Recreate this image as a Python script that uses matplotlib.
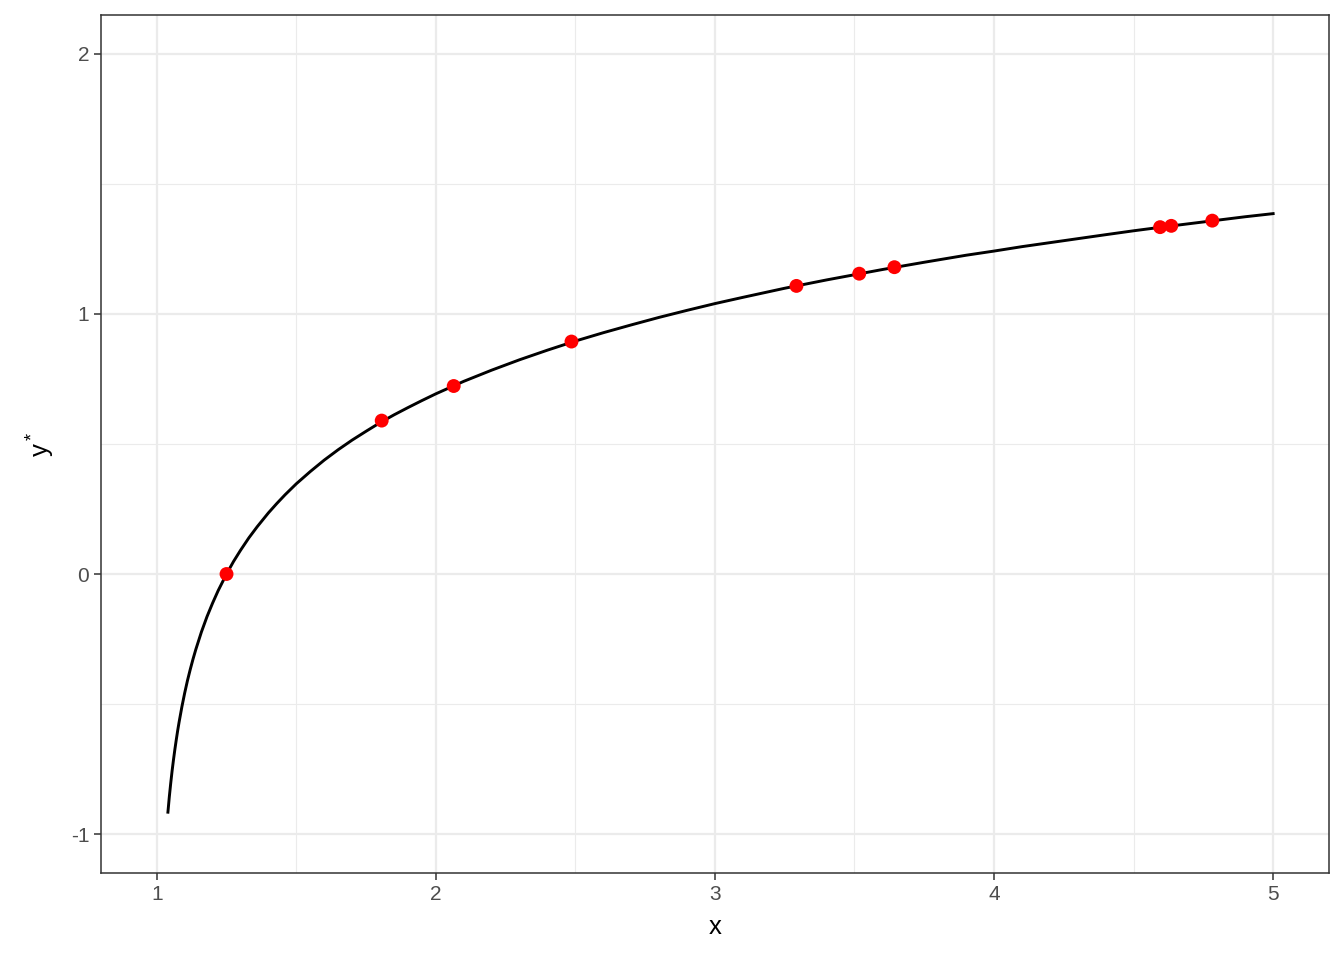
import matplotlib
matplotlib.use("Agg")
import matplotlib.pyplot as plt

# curve values
curve_x = [1.04, 1.045, 1.05, 1.055, 1.06, 1.065, 1.07, 1.075, 1.08, 1.09,
           1.10, 1.11, 1.12, 1.13, 1.14, 1.16, 1.18, 1.20, 1.22, 1.25, 1.275,
           1.30, 1.33, 1.36, 1.40, 1.43, 1.46, 1.50, 1.55, 1.60, 1.65, 1.70,
           1.75, 1.80, 1.85, 1.90, 1.95, 2.00, 2.10, 2.20, 2.30, 2.40, 2.50,
           2.60, 2.70, 2.80, 2.90, 3.00, 3.10, 3.25, 3.40, 3.50, 3.60, 3.75,
           3.90, 4.00, 4.10, 4.25, 4.40, 4.50, 4.60, 4.75, 4.90, 5.00]
curve_y = [-0.916, -0.857, -0.805, -0.757, -0.714, -0.674, -0.637, -0.602,
           -0.570, -0.511, -0.458, -0.410, -0.367, -0.327, -0.290, -0.223,
           -0.164, -0.112, -0.064, 0.000, 0.048, 0.091, 0.139, 0.182, 0.235,
           0.271, 0.305, 0.347, 0.394, 0.438, 0.478, 0.515, 0.549, 0.582,
           0.612, 0.640, 0.667, 0.693, 0.741, 0.784, 0.824, 0.861, 0.896,
           0.928, 0.958, 0.987, 1.014, 1.040, 1.064, 1.099, 1.131, 1.151,
           1.171, 1.199, 1.226, 1.242, 1.259, 1.282, 1.305, 1.320, 1.334,
           1.354, 1.374, 1.386]

# red points
pts_x = [1.25, 1.806, 2.064, 2.486, 3.292, 3.517, 3.643, 4.595, 4.635, 4.782]
pts_y = [0.000, 0.590, 0.723, 0.894, 1.108, 1.155, 1.180, 1.334, 1.339, 1.359]

x_ticks = [1, 2, 3, 4, 5]
y_ticks = [-1, 0, 1, 2]

plt.rcParams['font.family'] = ['Liberation Sans', 'DejaVu Sans']
plt.rcParams['mathtext.fontset'] = 'custom'
plt.rcParams['mathtext.rm'] = 'Liberation Sans'
plt.rcParams['axes.unicode_minus'] = False

fig = plt.figure(figsize=(13.44, 9.6), dpi=100)
ax = fig.add_axes([0.0751, 0.0906, 0.9137, 0.8938])

for v in [1.5, 2.5, 3.5, 4.5]:
    ax.axvline(v, color='#EBEBEB', lw=0.8, zorder=0)
for v in [-0.5, 0.5, 1.5]:
    ax.axhline(v, color='#EBEBEB', lw=0.8, zorder=0)
for v in x_ticks:
    ax.axvline(v, color='#EBEBEB', lw=1.6, zorder=0)
for v in y_ticks:
    ax.axhline(v, color='#EBEBEB', lw=1.6, zorder=0)

ax.plot(curve_x, curve_y, color='black', lw=2.1, zorder=2,
        solid_joinstyle='round')
ax.scatter(pts_x, pts_y, s=100, color='red', edgecolors='none', zorder=3)

ax.set_xlim(0.8, 5.2)
ax.set_ylim(-1.15, 2.15)
ax.set_xticks(x_ticks)
ax.set_yticks(y_ticks)
ax.tick_params(colors='#333333', labelcolor='#4D4D4D', labelsize=15,
               length=5, width=1.1)
for s in ax.spines.values():
    s.set_color('#333333')
    s.set_linewidth(1.1)

ax.set_xlabel('x', fontsize=18.5, labelpad=8)
ax.set_ylabel(r'$\mathregular{y^*}$', fontsize=18.5, labelpad=10)

fig.savefig('out.png', dpi=100)
